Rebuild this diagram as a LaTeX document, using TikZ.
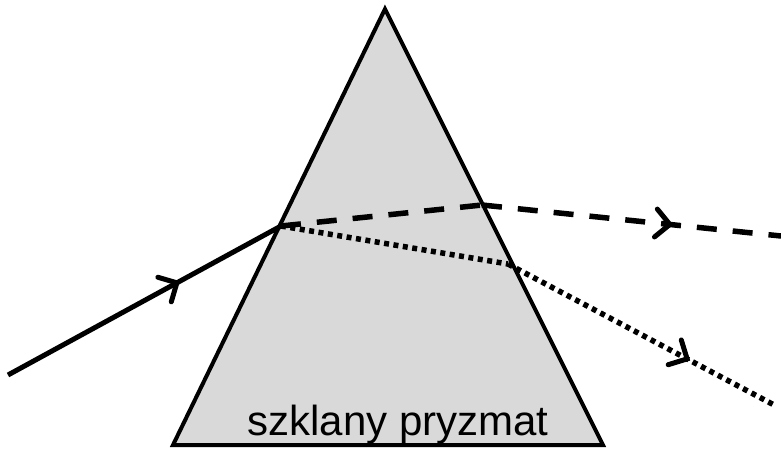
\documentclass[tikz,border=0pt]{standalone}
\usepackage{fontspec}
\setmainfont{Liberation Sans}
\usetikzlibrary{arrows.meta,decorations.markings}
\definecolor{glass}{HTML}{D9D9D9}
\tikzset{
  prismbox/.style={fill=glass,draw=black,line width=4pt,line join=miter},
  ray/.style={line width=5pt},
  dashray/.style={line width=5.5pt,dash pattern=on 20pt off 16pt},
  dotray/.style={line width=5.5pt,dash pattern=on 5pt off 4.5pt},
  midarrow/.style={postaction={decorate},decoration={markings,
    mark=at position #1 with {\arrow{Straight Barb[length=14pt,width=28pt,line width=5pt,line cap=round]}}}}
}
\begin{document}
\begin{tikzpicture}[x=1pt,y=-1pt]
\useasboundingbox (0,0) rectangle (781,450);
\coordinate (A) at (385,9);
\coordinate (BL) at (173,445);
\coordinate (BR) at (603,445);
\coordinate (S) at (8,375);
\coordinate (E) at (281,226);
\coordinate (X1) at (482,205);
\coordinate (D1) at (781,236);
\coordinate (X2) at (508,264);
\coordinate (D2) at (776,406);
\draw[prismbox] (A) -- (BR) -- (BL) -- cycle;
\node[font=\fontsize{42}{50}\selectfont,anchor=base] (lbl) at (398,435) {szklany pryzmat};
\draw[ray,midarrow=0.63] (S) -- (E);
\draw[dashray] (E) -- (X1);
\draw[dashray,midarrow=0.64] (X1) -- (D1);
\draw[dotray] (E) -- (X2);
\draw[dotray,midarrow=0.68] (X2) -- (D2);
\end{tikzpicture}
\end{document}
